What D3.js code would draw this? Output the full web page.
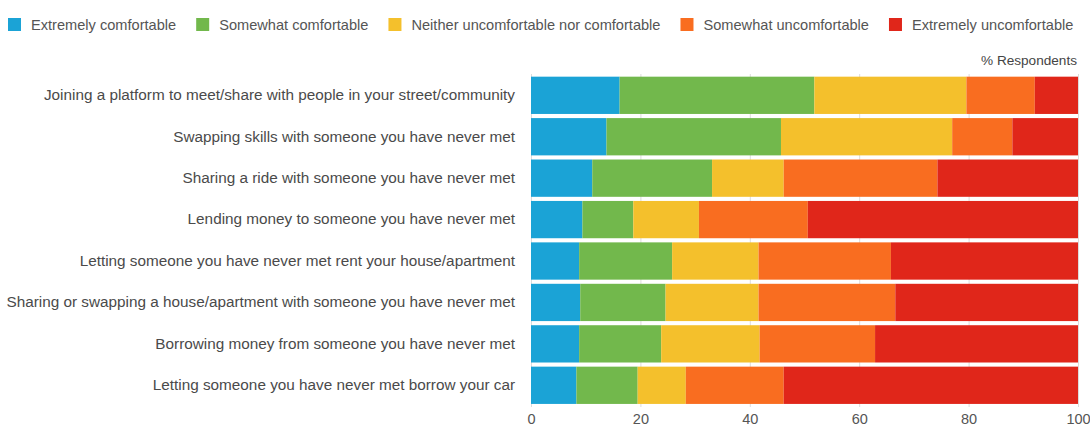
<!DOCTYPE html>
<html>
<head>
<meta charset="utf-8">
<script src="https://cdn.jsdelivr.net/npm/d3@7"></script>
<style>
  html, body { margin: 0; padding: 0; background: #fff; }
  svg { display: block; font-family: "Liberation Sans", Arial, Helvetica, sans-serif; }
</style>
</head>
<body>
<svg id="chart" width="1090" height="427"></svg>
<script>
const categories = [
  "Joining a platform to meet/share with people in your street/community",
  "Swapping skills with someone you have never met",
  "Sharing a ride with someone you have never met",
  "Lending money to someone you have never met",
  "Letting someone you have never met rent your house/apartment",
  "Sharing or swapping a house/apartment with someone you have never met",
  "Borrowing money from someone you have never met",
  "Letting someone you have never met borrow your car"
];
const seriesNames = [
  "Extremely comfortable",
  "Somewhat comfortable",
  "Neither uncomfortable nor comfortable",
  "Somewhat uncomfortable",
  "Extremely uncomfortable"
];
const extremelyComfortable   = [16.2, 13.8, 11.2, 9.4, 8.8, 9.0, 8.8, 8.3];
const somewhatComfortable    = [35.6, 31.9, 21.9, 9.3, 17.0, 15.6, 15.0, 11.2];
const neither                = [27.8, 31.3, 13.1, 12.0, 15.8, 17.0, 18.0, 8.8];
const somewhatUncomfortable  = [12.5, 11.0, 28.1, 19.9, 24.2, 25.0, 21.1, 17.9];
const extremelyUncomfortable = [7.9, 12.0, 25.7, 49.4, 34.2, 33.4, 37.1, 53.8];
const xTicks = [0, 20, 40, 60, 80, 100];
const axisTitle = "% Respondents";
const colors = ["#1ba3d6", "#72b84c", "#f4c02c", "#f96d20", "#e0261a"];

const seriesValues = [extremelyComfortable, somewhatComfortable, neither, somewhatUncomfortable, extremelyUncomfortable];
const rows = categories.map((c, i) => {
  const r = { cat: c };
  seriesNames.forEach((s, j) => r[s] = seriesValues[j][i]);
  return r;
});
const stacked = d3.stack().keys(seriesNames)(rows);

const svg = d3.select("#chart");
const x = d3.scaleLinear().domain([0, 100]).range([531, 1078]);
const y = d3.scaleBand().domain(categories).range([74.6, 406]).paddingInner(0.1).paddingOuter(0.05);
const color = d3.scaleOrdinal().domain(seriesNames).range(colors);

// gridlines
svg.append("g")
  .selectAll("line").data(xTicks).join("line")
  .attr("x1", d => x(d) + 0.5).attr("x2", d => x(d) + 0.5)
  .attr("y1", 74).attr("y2", 407)
  .attr("stroke", "#dcdcdc").attr("stroke-width", 1);

// bars
svg.append("g").selectAll("g").data(stacked).join("g")
  .attr("fill", d => color(d.key))
  .selectAll("rect").data(d => d).join("rect")
  .attr("x", d => x(d[0]))
  .attr("width", d => x(d[1]) - x(d[0]))
  .attr("y", d => y(d.data.cat))
  .attr("height", y.bandwidth());

// category labels
const yAxis = d3.axisLeft(y).tickSize(0).tickPadding(16);
const gy = svg.append("g").attr("transform", "translate(531,0)").call(yAxis);
gy.select(".domain").remove();
gy.selectAll("text").attr("fill", "#4a4a4a").style("font-size", "15.3px");

// x axis
const xAxis = d3.axisBottom(x).tickValues(xTicks).tickSize(0).tickPadding(8);
const gx = svg.append("g").attr("transform", "translate(0,406)").call(xAxis);
gx.select(".domain").remove();
gx.selectAll("text").attr("fill", "#555").style("font-size", "14.5px");

// axis title
svg.append("text").attr("x", 1077).attr("y", 65).attr("text-anchor", "end")
  .attr("fill", "#444").style("font-size", "13.6px").text(axisTitle);

// legend
const legend = svg.append("g");
let lx = 8;
seriesNames.forEach((s, i) => {
  const g = legend.append("g").attr("transform", `translate(${lx},0)`);
  g.append("rect").attr("x", 0).attr("y", 18).attr("width", 13).attr("height", 13).attr("fill", colors[i]);
  const t = g.append("text").attr("x", 23).attr("y", 29.5).attr("fill", "#555")
    .style("font-size", "14.6px").text(s);
  lx += 23 + t.node().getComputedTextLength() + 20;
});
</script>
</body>
</html>
